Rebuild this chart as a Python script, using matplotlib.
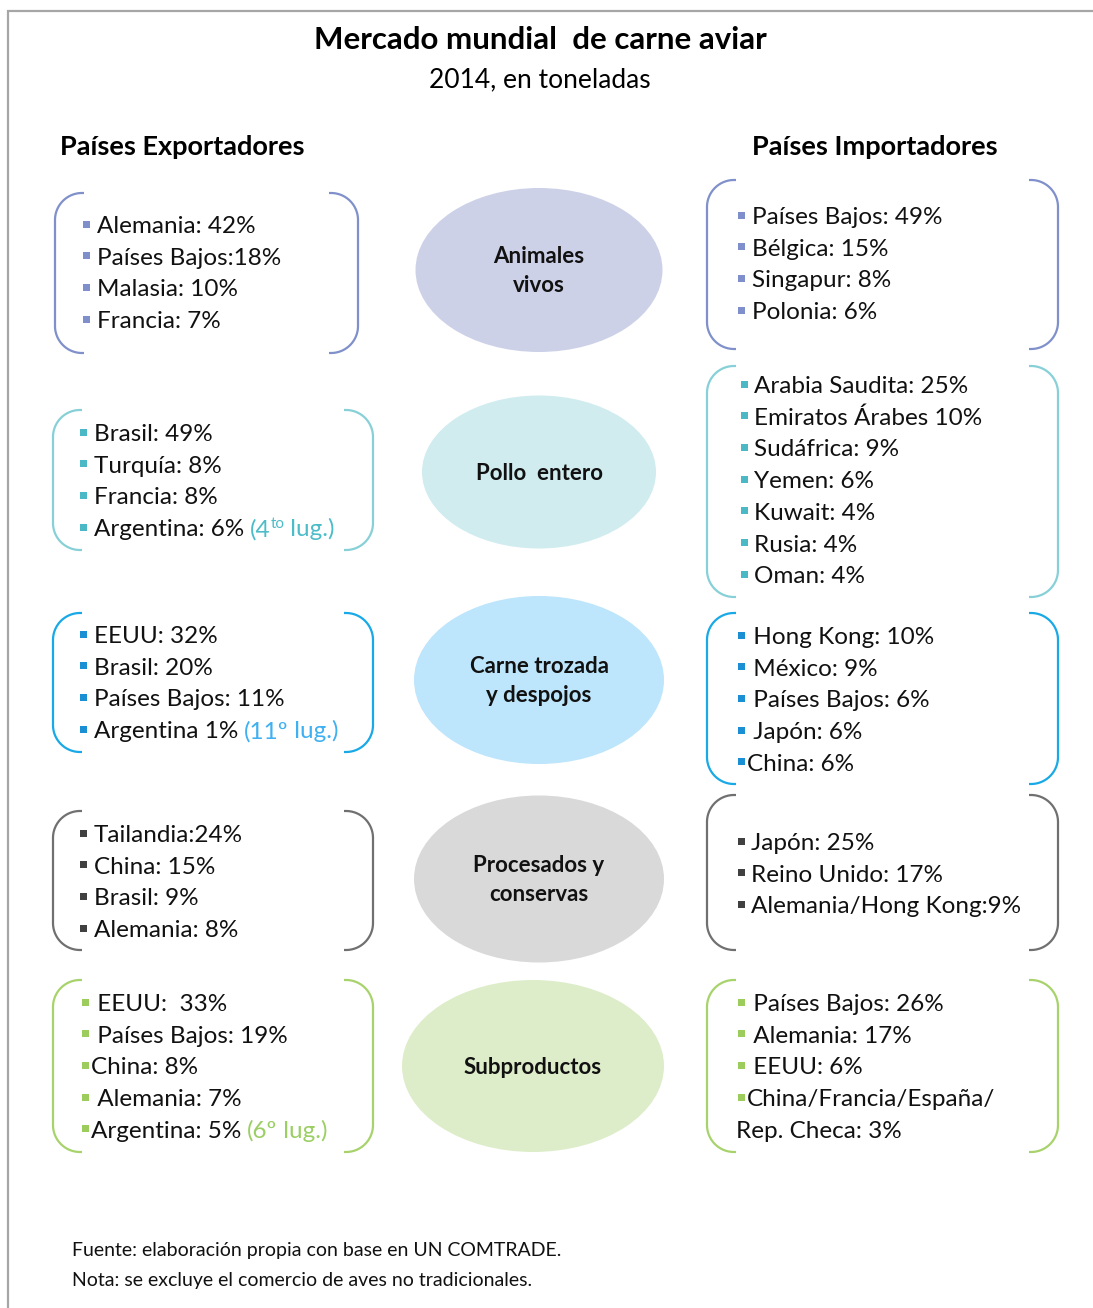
import matplotlib
matplotlib.use("Agg")
import matplotlib.pyplot as plt
from matplotlib.patches import Ellipse, Rectangle
import numpy as np

plt.rcParams['font.family'] = ['Lato', 'DejaVu Sans']

# ---------------- data ----------------
title = "Mercado mundial  de carne aviar"
subtitle = "2014, en toneladas"
header_left = "Países Exportadores"
header_right = "Países Importadores"

categories = ["Animales\nvivos", "Pollo  entero", "Carne trozada\ny despojos",
              "Procesados y\nconservas", "Subproductos"]

exporters = [
    ["Alemania: 42%", "Países Bajos:18%", "Malasia: 10%", "Francia: 7%"],
    ["Brasil: 49%", "Turquía: 8%", "Francia: 8%", "Argentina: 6%"],
    ["EEUU: 32%", "Brasil: 20%", "Países Bajos: 11%", "Argentina 1%"],
    ["Tailandia:24%", "China: 15%", "Brasil: 9%", "Alemania: 8%"],
    [" EEUU:  33%", " Países Bajos: 19%", "China: 8%", " Alemania: 7%", "Argentina: 5%"],
]
# Argentina's rank (number, superscript) per category, None if not listed
argentina_rank = [None, ("4", "to"), ("11º", ""), None, ("6º", "")]

importers = [
    ["Países Bajos: 49%", "Bélgica: 15%", "Singapur: 8%", "Polonia: 6%"],
    ["Arabia Saudita: 25%", "Emiratos Árabes 10%", "Sudáfrica: 9%", "Yemen: 6%",
     "Kuwait: 4%", "Rusia: 4%", "Oman: 4%"],
    [" Hong Kong: 10%", " México: 9%", " Países Bajos: 6%", " Japón: 6%", "China: 6%"],
    ["Japón: 25%", "Reino Unido: 17%", "Alemania/Hong Kong:9%"],
    [" Países Bajos: 26%", " Alemania: 17%", " EEUU: 6%", "China/Francia/España/"],
]
importer_continuation = [None, None, None, None, "Rep. Checa: 3%"]

source = "Fuente: elaboración propia con base en UN COMTRADE."
note = "Nota: se excluye el comercio de aves no tradicionales."

# ---------------- styles / layout ----------------
line_colors = ["#8090cb", "#88d0d8", "#18a9e6", "#707070", "#a8d36c"]
bullet_colors = ["#7f8fcb", "#4bb8c6", "#1a8fd4", "#404040", "#9ccc5c"]
fill_colors = ["#cdd1e8", "#d0ecef", "#bde5fb", "#d9d9d9", "#deedc9"]
rank_colors = [None, "#4bbcc8", "#3fb0f0", None, "#9bcf63"]

left_box = [(55, 193, 358, 353), (53, 410, 373, 550), (53, 613, 373, 752),
            (53, 811, 373, 950), (53, 980, 373, 1152)]
right_box = [(707, 180, 1058, 349), (707, 366, 1058, 597), (707, 613, 1058, 784),
             (707, 795, 1058, 950), (707, 980, 1058, 1152)]
ellipses = [(539, 270, 247, 164), (539, 472, 234, 153), (539, 680, 250, 168),
            (539, 879, 250, 167), (533, 1066, 262, 172)]
left_item_x = [(86, 97), (83, 94), (83, 94), (83, 94), (85, 91)]
left_item_y0 = [225, 433, 635, 834, 1003]
right_item_x = [(741, 752), (744, 754), (741, 747), (741, 751), (741, 747)]
right_item_y0 = [216, 385, 636, 842, 1003]
dy = 31.7

W, H = 1093, 1308
fig = plt.figure(figsize=(W / 100, H / 100), dpi=100)
ax = fig.add_axes([0, 0, 1, 1])
ax.set_xlim(0, W)
ax.set_ylim(H, 0)
ax.axis('off')

# frame
ax.plot([8, 8, W], [H, 11, 11], color="#a6a6a6", lw=1.6, solid_joinstyle='miter')

ITEM_FS = 17.5
BASE_OFF = 8


def bracket(x0, y0, x1, y1, color, side, r=27, tail=2):
    phi = np.linspace(0, np.pi / 2, 40)
    if side == 'left':
        cx = x0 + r
        tx = cx - r * np.sin(phi)
        ty = y0 + r - r * np.cos(phi)
        bx = cx - r * np.cos(phi)
        by = y1 - r + r * np.sin(phi)
        xs = np.concatenate([[cx + tail], tx, bx, [cx + tail]])
    else:
        cx = x1 - r
        tx = cx + r * np.sin(phi)
        ty = y0 + r - r * np.cos(phi)
        bx = cx + r * np.cos(phi)
        by = y1 - r + r * np.sin(phi)
        xs = np.concatenate([[cx - tail], tx, bx, [cx - tail]])
    ys = np.concatenate([[y0], ty, by, [y1]])
    ax.plot(xs, ys, color=color, lw=1.6, solid_capstyle='butt')


def item(bx, tx, y, s, bcolor, bullet=True):
    if bullet:
        ax.add_patch(Rectangle((bx - 3.5, y - 4.5), 7, 7, facecolor=bcolor, edgecolor='none'))
    return ax.text(tx, y + BASE_OFF, s, fontsize=ITEM_FS, color="#111111",
                   ha='left', va='baseline')


# titles
ax.text(540, 40 + 9, title, fontsize=22.5, fontweight='bold', ha='center', va='baseline')
ax.text(540, 79 + 8, subtitle, fontsize=19, ha='center', va='baseline')
ax.text(60, 146 + 9, header_left, fontsize=19.5, fontweight='bold', ha='left', va='baseline')
ax.text(752, 146 + 9, header_right, fontsize=19.5, fontweight='bold', ha='left', va='baseline')

for i, cat in enumerate(categories):
    cx, cy, w, h = ellipses[i]
    ax.add_patch(Ellipse((cx, cy), w, h, facecolor=fill_colors[i], edgecolor='none'))
    ax.text(cx, cy + 1, cat, fontsize=16, fontweight='bold', ha='center', va='center',
            linespacing=1.45, color="#111111")

    x0, y0, x1, y1 = left_box[i]
    bracket(x0, y0, x1, y1, line_colors[i], 'left')
    bracket(x0, y0, x1, y1, line_colors[i], 'right')
    x0, y0, x1, y1 = right_box[i]
    bracket(x0, y0, x1, y1, line_colors[i], 'left')
    bracket(x0, y0, x1, y1, line_colors[i], 'right')

    bx, tx = left_item_x[i]
    last = None
    for k, s in enumerate(exporters[i]):
        last = item(bx, tx, left_item_y0[i] + k * dy, s, bullet_colors[i])
    if argentina_rank[i] is not None:
        num, sup = argentina_rank[i]
        c = rank_colors[i]
        t1 = ax.annotate("(" + num, xy=(1, 0), xycoords=last, xytext=(4, 0),
                         textcoords='offset points', fontsize=ITEM_FS, color=c,
                         ha='left', va='bottom')
        t2 = ax.annotate(sup, xy=(1, 0.42), xycoords=t1, xytext=(0, 0),
                         textcoords='offset points', fontsize=11, color=c,
                         ha='left', va='bottom')
        ax.annotate(" lug.)", xy=(1, 0), xycoords=(t2, t1), xytext=(0, 0),
                    textcoords='offset points', fontsize=ITEM_FS, color=c,
                    ha='left', va='bottom')

    bx, tx = right_item_x[i]
    for k, s in enumerate(importers[i]):
        item(bx, tx, right_item_y0[i] + k * dy, s, bullet_colors[i])
    if importer_continuation[i]:
        item(bx, bx - 5, right_item_y0[i] + len(importers[i]) * dy,
             importer_continuation[i], None, bullet=False)

ax.text(72, 1250 + 6, source, fontsize=14, ha='left', va='baseline', color="#111111")
ax.text(72, 1280 + 6, note, fontsize=14, ha='left', va='baseline', color="#111111")

fig.savefig("out.png", dpi=100)
